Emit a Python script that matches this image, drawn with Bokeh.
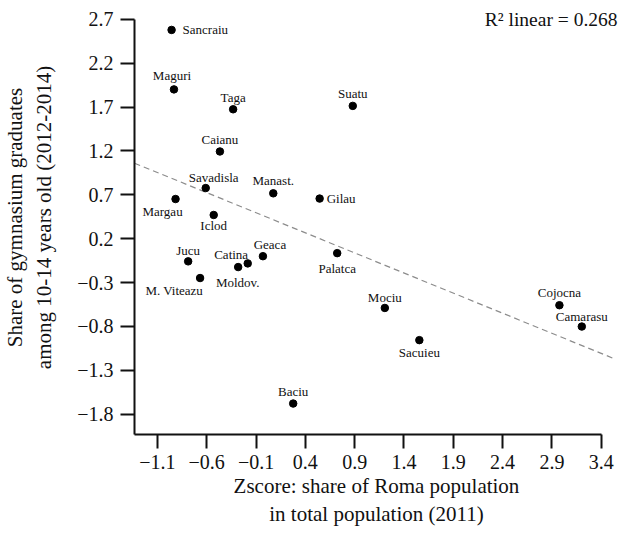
import numpy as np
from bokeh.plotting import figure
from bokeh.models import ColumnDataSource, FixedTicker, Range1d, Label
from bokeh.core.properties import value
from bokeh.embed import file_html
from bokeh.resources import INLINE

# ---- data ----
names = ["Sancraiu", "Maguri", "Taga", "Caianu", "Savadisla", "Manast.", "Margau",
         "Iclod", "Gilau", "Suatu", "Jucu", "M. Viteazu", "Catina", "Moldov.",
         "Geaca", "Baciu", "Palatca", "Mociu", "Sacuieu", "Cojocna", "Camarasu"]
zscore_roma = [-0.956, -0.932, -0.332, -0.466, -0.610, 0.075, -0.916,
               -0.529, 0.545, 0.881, -0.788, -0.667, -0.281, -0.184,
               -0.030, 0.277, 0.723, 1.206, 1.556, 2.976, 3.203]
share_grad = [2.58, 1.902, 1.675, 1.194, 0.777, 0.717, 0.652,
              0.470, 0.657, 1.714, -0.059, -0.249, -0.124, -0.082,
              0.000, -1.680, 0.035, -0.590, -0.957, -0.559, -0.802]
x_ticks = [-1.1, -0.6, -0.1, 0.4, 0.9, 1.4, 1.9, 2.4, 2.9, 3.4]
y_ticks = [2.7, 2.2, 1.7, 1.2, 0.7, 0.2, -0.3, -0.8, -1.3, -1.8]
r2_text = "R\u00b2 linear = 0.268"

# ---- label placement (layout only, pixels) ----
label_dx = [11, -2, 0, 0, 8, 0, -13, 0, 7, 0, 0, 3, -7, -10, 7, 0, 0, 0, 0, 0, 0]
label_dy = [0, -14, -12, -12, -11, -13, 12, 11, 0, -12, -11, 12, -13, 19, -12, -12, 15, -10, 12, -13, -10]
label_align = ["left", "center", "center", "center", "center", "center", "center",
               "center", "left", "center", "center", "right", "center", "center",
               "center", "center", "center", "center", "center", "center", "center"]

FONT = "Liberation Serif"

# plotting window (layout)
x_lo, x_hi = -1.332, 3.575
y_lo, y_hi = -2.033, 2.9155
fit_end = 3.55

p = figure(width=618, height=532, output_backend="svg", toolbar_location=None,
           x_range=Range1d(x_lo, x_hi), y_range=Range1d(y_lo, y_hi),
           min_border_left=125, min_border_right=0, min_border_top=0,
           min_border_bottom=98)
p.outline_line_color = None
p.grid.visible = False
p.background_fill_color = "white"
p.border_fill_color = "white"

# regression line computed from the data
slope, intercept = np.polyfit(zscore_roma, share_grad, 1)
fx = np.array([x_lo, fit_end])
p.line(fx, slope * fx + intercept, line_color="#8c8c8c", line_width=1.2, line_dash="6 4")

src = ColumnDataSource(dict(x=zscore_roma, y=share_grad, name=names,
                            dx=label_dx, dy=label_dy, al=label_align))
p.scatter("x", "y", source=src, size=7.5, color="black")
p.text("x", "y", text="name", source=src, x_offset="dx", y_offset="dy",
       text_align="al", text_baseline="middle",
       text_font=value(FONT), text_font_size="13px", text_color="#111111")

p.add_layout(Label(x=x_hi, y=y_ticks[0], x_offset=-1, text=r2_text,
                   text_align="right", text_baseline="middle",
                   text_font=FONT, text_font_size="19.5px", text_color="#111111"))

for ax, ticks, bounds in ((p.xaxis[0], x_ticks, (x_lo, x_ticks[-1])),
                          (p.yaxis[0], y_ticks, (y_lo, y_ticks[0]))):
    ax.ticker = FixedTicker(ticks=ticks)
    ax.bounds = bounds
    ax.axis_line_width = 2
    ax.axis_line_color = "#111111"
    ax.major_tick_line_width = 2
    ax.major_tick_line_color = "#111111"
    ax.major_tick_out = 14
    ax.major_tick_in = 0
    ax.minor_tick_line_color = None
    ax.major_label_text_font = FONT
    ax.major_label_text_font_size = "20px"
    ax.major_label_text_color = "#111111"
    ax.axis_label_text_font = FONT
    ax.axis_label_text_font_size = "21px"
    ax.axis_label_text_font_style = "normal"
    ax.axis_label_text_color = "#111111"

p.xaxis.axis_label = "Zscore: share of Roma population\nin total population (2011)"
p.yaxis.axis_label = "Share of gymnasium graduates\namong 10-14 years old (2012-2014)"
p.xaxis.major_label_standoff = 6
p.xaxis.axis_label_standoff = 2
p.yaxis.major_label_standoff = 7
p.yaxis.axis_label_standoff = 18
p.yaxis.major_label_orientation = "horizontal"

open("out.html", "w").write(file_html(p, INLINE))
